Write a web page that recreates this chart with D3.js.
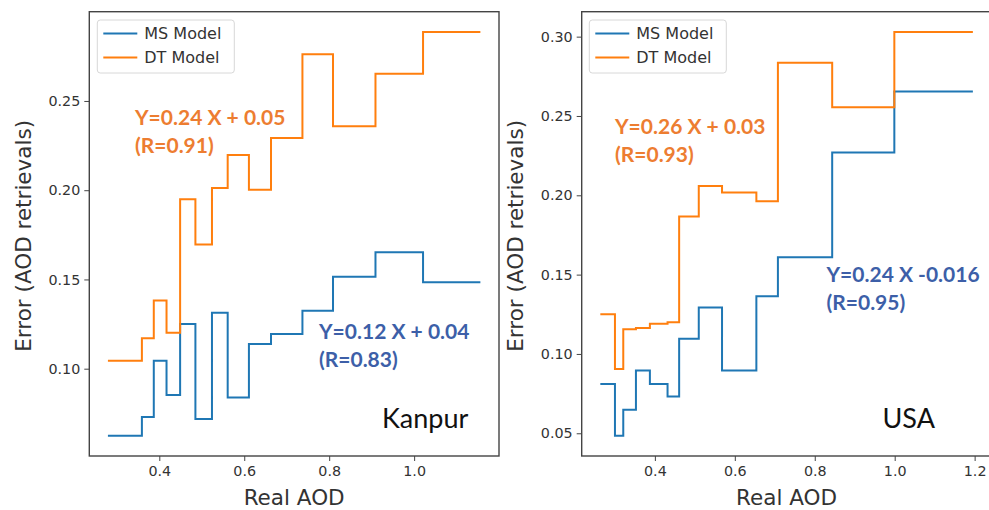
<!doctype html>
<html>
<head>
<script src="https://cdn.jsdelivr.net/npm/d3@7"></script>
<style>
  body { margin: 0; background: #fff; }
  .tick text { font-family: "DejaVu Sans", sans-serif; font-size: 14.3px; fill: #333; }
  .tick line { stroke: #444; }
  .domain { display: none; }
</style>
</head>
<body>
<svg id="chart" width="989" height="510"></svg>
<script>

// Kanpur: bin edges (Real AOD) and step values per bin
var kanpurEdges = [0.279, 0.359, 0.387, 0.417, 0.449, 0.485, 0.524, 0.561, 0.611, 0.663, 0.737, 0.809, 0.909, 1.021, 1.156];
var kanpurMS = [0.0624, 0.0729, 0.1045, 0.0852, 0.1251, 0.0718, 0.1313, 0.0839, 0.1139, 0.1195, 0.1324, 0.1515, 0.1653, 0.1484];
var kanpurDT = [0.1045, 0.1170, 0.1382, 0.1202, 0.1950, 0.1696, 0.2012, 0.2197, 0.2003, 0.2292, 0.2762, 0.2358, 0.2652, 0.2887];

// USA
var usaEdges = [0.2635, 0.3001, 0.3209, 0.3526, 0.3875, 0.4317, 0.4607, 0.5098, 0.5680, 0.6539, 0.7078, 0.8436, 0.9991, 1.1956];
var usaMS = [0.0811, 0.0484, 0.0648, 0.0895, 0.0811, 0.0732, 0.1095, 0.1292, 0.0895, 0.1364, 0.1610, 0.2269, 0.2654];
var usaDT = [0.1250, 0.0905, 0.1155, 0.1164, 0.1191, 0.1199, 0.1867, 0.2058, 0.2018, 0.1963, 0.2835, 0.2555, 0.3030];

var kanpurXTicks = [0.4, 0.6, 0.8, 1.0];
var kanpurYTicks = [0.10, 0.15, 0.20, 0.25];
var usaXTicks = [0.4, 0.6, 0.8, 1.0, 1.2];
var usaYTicks = [0.05, 0.10, 0.15, 0.20, 0.25, 0.30];

var seriesNames = ["MS Model", "DT Model"];
var seriesColors = ["#1f77b4", "#ff7f0e"];

var svg = d3.select("#chart");

function padded(lo, hi) {
    var p = (hi - lo) * 0.05;
    return [lo - p, hi + p];
}

function stepPoints(edges, vals) {
    var pts = vals.map(function (v, i) { return [edges[i], v]; });
    pts.push([edges[edges.length - 1], vals[vals.length - 1]]);
    return pts;
}

function drawPanel(opt) {
    var g = svg.append("g");
    var allVals = opt.ms.concat(opt.dt);

    var x = d3.scaleLinear()
        .domain(padded(d3.min(opt.edges), d3.max(opt.edges)))
        .range([opt.left, opt.right]);
    var y = d3.scaleLinear()
        .domain(padded(d3.min(allVals), d3.max(allVals)))
        .range([opt.bottom, opt.top]);

    g.append("g")
        .attr("transform", "translate(0," + opt.bottom + ")")
        .call(d3.axisBottom(x).tickValues(opt.xTicks).tickFormat(d3.format(".1f")).tickSize(5).tickPadding(5));

    g.append("g")
        .attr("transform", "translate(" + opt.left + ",0)")
        .call(d3.axisLeft(y).tickValues(opt.yTicks).tickFormat(d3.format(".2f")).tickSize(5).tickPadding(4));

    var line = d3.line()
        .x(function (d) { return x(d[0]); })
        .y(function (d) { return y(d[1]); })
        .curve(d3.curveStepAfter);

    [opt.ms, opt.dt].forEach(function (vals, i) {
        g.append("path")
            .datum(stepPoints(opt.edges, vals))
            .attr("d", line)
            .attr("fill", "none")
            .attr("stroke", seriesColors[i])
            .attr("stroke-width", 2);
    });

    // frame
    g.append("rect")
        .attr("x", opt.left).attr("y", opt.top)
        .attr("width", opt.right - opt.left).attr("height", opt.bottom - opt.top)
        .attr("fill", "none").attr("stroke", "#444").attr("stroke-width", 1.4);

    // legend
    var lg = g.append("g").attr("transform", "translate(" + (opt.left + opt.legendDx) + ",20)");
    lg.append("rect")
        .attr("width", 137).attr("height", 53).attr("rx", 3)
        .attr("fill", "#fff").attr("stroke", "#d8d8d8");
    seriesNames.forEach(function (name, i) {
        lg.append("line")
            .attr("x1", 6).attr("x2", 40)
            .attr("y1", 13.5 + i * 24).attr("y2", 13.5 + i * 24)
            .attr("stroke", seriesColors[i]).attr("stroke-width", 2);
        lg.append("text")
            .attr("x", 47).attr("y", 13.5 + i * 24).attr("dy", "0.36em")
            .style("font-family", "DejaVu Sans").style("font-size", "16px").style("fill", "#333")
            .text(name);
    });

    // axis labels
    g.append("text")
        .attr("x", (opt.left + opt.right) / 2).attr("y", 505)
        .attr("text-anchor", "middle")
        .style("font-family", "DejaVu Sans").style("font-size", "21.5px").style("fill", "#333")
        .text("Real AOD");
    g.append("text")
        .attr("transform", "translate(" + opt.ylabelX + "," + ((opt.top + opt.bottom) / 2 + 2) + ") rotate(-90)")
        .attr("text-anchor", "middle").attr("dy", "0.35em")
        .style("font-family", "DejaVu Sans").style("font-size", "21.5px").style("fill", "#333")
        .text("Error (AOD retrievals)");

    // fit annotations
    opt.notes.forEach(function (n) {
        var t = g.append("text")
            .attr("x", n.x).attr("y", n.y)
            .style("font-family", "Lato, sans-serif").style("font-weight", "bold")
            .style("font-size", "21px").style("fill", n.color);
        t.append("tspan").attr("x", n.x).text(n.lines[0]);
        t.append("tspan").attr("x", n.x).attr("dy", 28.5).text(n.lines[1]);
    });

    g.append("text")
        .attr("x", opt.site.x).attr("y", 428)
        .style("font-family", "Lato, sans-serif").style("font-size", "27px").style("fill", "#111")
        .text(opt.site.name);
}

drawPanel({
    edges: kanpurEdges, ms: kanpurMS, dt: kanpurDT,
    xTicks: kanpurXTicks, yTicks: kanpurYTicks,
    left: 89.3, right: 499, top: 11.7, bottom: 456,
    legendDx: 8, ylabelX: 23,
    notes: [
        { x: 135, y: 124.5, color: "#ED7D31", lines: ["Y=0.24 X + 0.05", "(R=0.91)"] },
        { x: 319, y: 338.5, color: "#3D5FA8", lines: ["Y=0.12 X + 0.04", "(R=0.83)"] }
    ],
    site: { name: "Kanpur", x: 382 }
});

drawPanel({
    edges: usaEdges, ms: usaMS, dt: usaDT,
    xTicks: usaXTicks, yTicks: usaYTicks,
    left: 581.7, right: 991.5, top: 11.7, bottom: 456,
    legendDx: 7.6, ylabelX: 515,
    notes: [
        { x: 615, y: 133.5, color: "#ED7D31", lines: ["Y=0.26 X + 0.03", "(R=0.93)"] },
        { x: 826.5, y: 281.5, color: "#3D5FA8", lines: ["Y=0.24 X -0.016", "(R=0.95)"] }
    ],
    site: { name: "USA", x: 882.5 }
});

</script>
</body>
</html>
